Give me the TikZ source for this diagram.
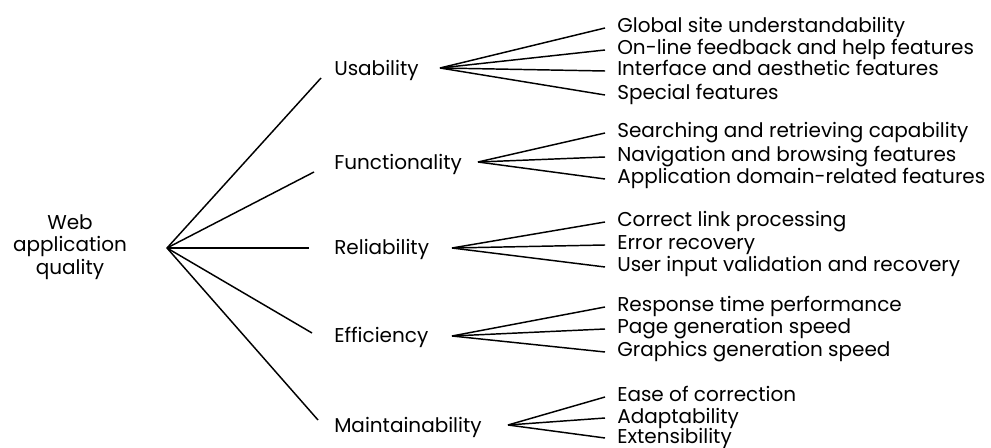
\documentclass[tikz,border=0pt]{standalone}
\usepackage{fontspec}
\setmainfont{Poppins}
\usepackage{tikz}

\tikzset{
  lbl/.style={anchor=west, inner sep=0.75pt, font=\fontsize{15}{17}\selectfont},
  leaf/.style={anchor=west, inner ysep=0pt, inner xsep=9pt, text height=10pt, text depth=2.5pt, font=\fontsize{15}{17}\selectfont},
  br/.style={line width=1.1pt}
}

\begin{document}
\begin{tikzpicture}[x=0.75pt,y=0.75pt,yscale=-1,xscale=1]
\useasboundingbox (0,0) rectangle (991,448);

% Root
\node [align=center, inner sep=0.75pt, font=\fontsize{15}{17}\selectfont] (root) at (70,247) {Web\\application\\quality};
\coordinate (rootFan) at (167,248);

% Second level
\node [lbl] (usab) at (333,70) {Usability};
\node [lbl] (func) at (333,164) {Functionality};
\node [lbl] (reli) at (333,249) {Reliability};
\node [lbl] (effi) at (333,337) {Efficiency};
\node [lbl] (main) at (333,427) {Maintainability};

\coordinate (usabEnd) at (321,78);
\coordinate (funcEnd) at (314,172);
\coordinate (reliEnd) at (309,248);
\coordinate (effiEnd) at (312,333);
\coordinate (mainEnd) at (318,420);

\draw [br] (rootFan) -- (usabEnd);
\draw [br] (rootFan) -- (funcEnd);
\draw [br] (rootFan) -- (reliEnd);
\draw [br] (rootFan) -- (effiEnd);
\draw [br] (rootFan) -- (mainEnd);

% Fan points
\coordinate (usabFan) at (440,68);
\coordinate (funcFan) at (478,162);
\coordinate (reliFan) at (452,248);
\coordinate (effiFan) at (452,336);
\coordinate (mainFan) at (508,425);

% Usability
\node [leaf] (u1) at (605,28) {Global site understandability};
\node [leaf] (u2) at (605,50) {On-line feedback and help features};
\node [leaf] (u3) at (605,71) {Interface and aesthetic features};
\node [leaf] (u4) at (605,95) {Special features};
\draw [br] (usabFan) -- (u1.west);
\draw [br] (usabFan) -- (u2.west);
\draw [br] (usabFan) -- (u3.west);
\draw [br] (usabFan) -- (u4.west);

% Functionality
\node [leaf] (f1) at (605,133) {Searching and retrieving capability};
\node [leaf] (f2) at (605,157) {Navigation and browsing features};
\node [leaf] (f3) at (605,179) {Application domain-related features};
\draw [br] (funcFan) -- (f1.west);
\draw [br] (funcFan) -- (f2.west);
\draw [br] (funcFan) -- (f3.west);

% Reliability
\node [leaf] (r1) at (605,222) {Correct link processing};
\node [leaf] (r2) at (605,245) {Error recovery};
\node [leaf] (r3) at (605,267) {User input validation and recovery};
\draw [br] (reliFan) -- (r1.west);
\draw [br] (reliFan) -- (r2.west);
\draw [br] (reliFan) -- (r3.west);

% Efficiency
\node [leaf] (e1) at (605,307) {Response time performance};
\node [leaf] (e2) at (605,329) {Page generation speed};
\node [leaf] (e3) at (605,352) {Graphics generation speed};
\draw [br] (effiFan) -- (e1.west);
\draw [br] (effiFan) -- (e2.west);
\draw [br] (effiFan) -- (e3.west);

% Maintainability
\node [leaf] (m1) at (605,397) {Ease of correction};
\node [leaf] (m2) at (605,418) {Adaptability};
\node [leaf] (m3) at (605,438) {Extensibility};
\draw [br] (mainFan) -- (m1.west);
\draw [br] (mainFan) -- (m2.west);
\draw [br] (mainFan) -- (m3.west);

\end{tikzpicture}
\end{document}
